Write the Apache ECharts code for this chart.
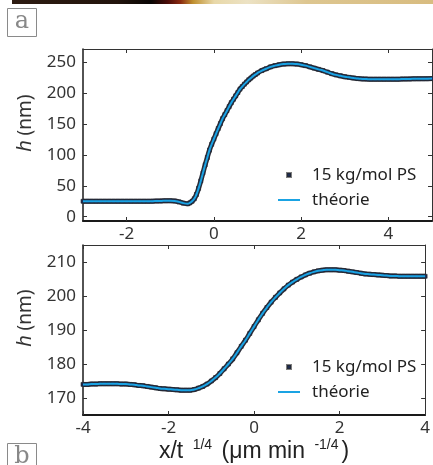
<!DOCTYPE html>
<html>
<head>
<meta charset="utf-8">
<script src="https://cdn.jsdelivr.net/npm/echarts@6/dist/echarts.min.js"></script>
<style>
html,body{margin:0;padding:0;background:#fff;}
#c{width:433px;height:465px;}
</style>
</head>
<body>
<div id="c"></div>
<script>
// ---- Panel a (top) ----
const xTop = [-3.0,-2.9,-2.8,-2.7,-2.6,-2.5,-2.4,-2.3,-2.2,-2.1,-2.0,-1.9,-1.8,-1.7,-1.6,-1.5,-1.4,-1.3,-1.2,-1.1,-1.0,-0.9,-0.8,-0.7,-0.6,-0.55,-0.5,-0.45,-0.4,-0.35,-0.3,-0.25,-0.2,-0.15,-0.1,-0.05,0.0,0.05,0.1,0.15,0.2,0.25,0.3,0.35,0.4,0.45,0.5,0.55,0.6,0.65,0.7,0.75,0.8,0.85,0.9,0.95,1.0,1.1,1.2,1.3,1.4,1.5,1.6,1.7,1.8,1.9,2.0,2.1,2.2,2.3,2.4,2.5,2.6,2.7,2.8,2.9,3.0,3.1,3.2,3.3,3.4,3.5,3.6,3.7,3.8,3.9,4.0,4.1,4.2,4.3,4.4,4.5,4.6,4.7,4.8,4.9,5.0];
const hTop = [25,25,25,25,25,25,25,25,25,25,25,25,25,25,25,25,25.2,25.4,25.6,25.8,25.9,25.5,24,22,21,22.5,25,29,36,46,58,71,84,96,108,117.5,126,134.5,143,151,159,165.5,172,178.5,185,190.5,196,201.5,207,211,215,218.5,222,225,228,230.5,233,237,240,243,245,246.5,247.5,248,248,247.5,246.5,245,243,241,239,237,234.5,232,230,228.5,227,226,225,224,223.5,223.2,223,223,223,223,223,223,223,223.2,223.3,223.5,223.6,223.7,223.8,223.9,224];
const topXTicks = [-2, 0, 2, 4];
const topYTicks = [0, 50, 100, 150, 200, 250];

// ---- Panel b (bottom) ----
const xBot = [-4.0,-3.9,-3.8,-3.7,-3.6,-3.5,-3.4,-3.3,-3.2,-3.1,-3.0,-2.9,-2.8,-2.7,-2.6,-2.5,-2.4,-2.3,-2.2,-2.1,-2.0,-1.9,-1.8,-1.7,-1.6,-1.5,-1.4,-1.3,-1.2,-1.1,-1.0,-0.9,-0.8,-0.7,-0.6,-0.5,-0.4,-0.3,-0.2,-0.1,0.0,0.1,0.2,0.3,0.4,0.5,0.6,0.7,0.8,0.9,1.0,1.1,1.2,1.3,1.4,1.5,1.6,1.7,1.8,1.9,2.0,2.1,2.2,2.3,2.4,2.5,2.6,2.7,2.8,2.9,3.0,3.1,3.2,3.3,3.4,3.5,3.6,3.7,3.8,3.9,4.0];
const hBot = [174.0,174.0,174.1,174.1,174.2,174.2,174.2,174.2,174.2,174.1,174.1,174.0,173.9,173.7,173.6,173.4,173.2,173.0,172.8,172.7,172.6,172.5,172.4,172.3,172.3,172.3,172.5,172.9,173.4,174.1,175.0,176.0,177.2,178.6,180.0,181.5,183.3,185.2,187.0,189.0,191.0,193.0,194.9,196.6,198.2,199.6,200.9,202.1,203.2,204.1,204.9,205.6,206.2,206.7,207.1,207.4,207.6,207.7,207.7,207.7,207.6,207.5,207.3,207.1,206.9,206.7,206.5,206.4,206.3,206.2,206.1,206.0,205.9,205.9,205.8,205.8,205.8,205.8,205.8,205.8,205.8];
const botXTicks = [-4, -2, 0, 2, 4];
const botYTicks = [170, 180, 190, 200, 210];

const seriesNames = ['15 kg/mol PS', 'théorie'];
const xTitle = '{n|x/t }{s|1/4}{n| (μm min }{s|-1/4}{n|)}';
const yTitle = '{i|h}{n| (nm)}';

const FONT = 'Noto Sans';
const dataColor = '#1c2b52';
const lineColor = '#1aa3e3';

const pairs = (xs, ys) => xs.map((x, i) => [x, ys[i]]);

function xAxisPair(gridIndex, min, max, ticks, withName) {
  return [
    {
      type: 'value', gridIndex, min, max, position: 'bottom',
      axisLine: {show: true, onZero: false, lineStyle: {color: '#1a1a1a', width: 2}},
      axisTick: {show: true, inside: true, length: 4, customValues: ticks, lineStyle: {color: '#333', width: 1}},
      axisLabel: {show: true, customValues: ticks, color: '#333', fontFamily: FONT, fontSize: 17, margin: 5},
      splitLine: {show: false},
      name: withName ? xTitle : '',
      nameLocation: 'middle', nameGap: 21,
      nameTextStyle: {
        color: '#222', fontFamily: 'Liberation Sans', fontSize: 23,
        rich: {
          n: {fontSize: 23, fontFamily: 'Liberation Sans', color: '#222', lineHeight: 27},
          s: {fontSize: 14, fontFamily: 'Liberation Sans', color: '#222', verticalAlign: 'top', lineHeight: 18, padding: [0, 3, 0, 3]}
        }
      }
    },
    {
      type: 'value', gridIndex, min, max, position: 'top',
      axisLine: {show: true, onZero: false, lineStyle: {color: '#333', width: 1}},
      axisTick: {show: true, inside: true, length: 4, customValues: ticks, lineStyle: {color: '#333', width: 1}},
      axisLabel: {show: false},
      splitLine: {show: false}
    }
  ];
}

function yAxisPair(gridIndex, min, max, ticks) {
  return [
    {
      type: 'value', gridIndex, min, max, position: 'left',
      axisLine: {show: true, onZero: false, lineStyle: {color: '#1a1a1a', width: 1.5}},
      axisTick: {show: true, inside: true, length: 4, customValues: ticks, lineStyle: {color: '#333', width: 1}},
      axisLabel: {show: true, customValues: ticks, color: '#333', fontFamily: FONT, fontSize: 17, margin: 7},
      splitLine: {show: false},
      name: yTitle, nameLocation: 'middle', nameGap: 47, nameRotate: 90,
      nameTextStyle: {
        color: '#333', fontFamily: FONT, fontSize: 19, padding: [0, 0, 0, 24],
        rich: {
          i: {fontSize: 20, fontStyle: 'italic', fontFamily: 'Liberation Sans', color: '#333'},
          n: {fontSize: 19, fontFamily: FONT, color: '#333'}
        }
      }
    },
    {
      type: 'value', gridIndex, min, max, position: 'right',
      axisLine: {show: true, onZero: false, lineStyle: {color: '#333', width: 1}},
      axisTick: {show: true, inside: true, length: 4, customValues: ticks, lineStyle: {color: '#333', width: 1}},
      axisLabel: {show: false},
      splitLine: {show: false}
    }
  ];
}

function legendFor(top) {
  return {
    orient: 'vertical', left: 278, top: top, padding: 0,
    itemWidth: 22, itemHeight: 4, itemGap: 7,
    selectedMode: false,
    textStyle: {fontFamily: FONT, fontSize: 17, color: '#222', lineHeight: 18, padding: [0, 0, 0, 7]},
    data: [
      {name: seriesNames[0], icon: 'path://M0,0h4v4h-4z', itemStyle: {color: dataColor}},
      {name: seriesNames[1], icon: 'path://M0,0h22v2h-22z', itemStyle: {color: lineColor}}
    ]
  };
}

function dataSeries(ax, xs, ys) {
  return {
    name: seriesNames[0], type: 'line', xAxisIndex: ax, yAxisIndex: ax,
    symbol: 'rect', symbolSize: 4, showSymbol: true, smooth: true,
    itemStyle: {color: dataColor, borderColor: 'rgba(40,40,40,0.6)', borderWidth: 1},
    lineStyle: {color: '#2b2f3c', width: 5},
    data: pairs(xs, ys), z: 2
  };
}
function theorySeries(ax, xs, ys) {
  return {
    name: seriesNames[1], type: 'line', xAxisIndex: ax, yAxisIndex: ax,
    showSymbol: false, symbol: 'none', smooth: true,
    itemStyle: {color: lineColor},
    lineStyle: {color: lineColor, width: 2},
    data: pairs(xs, ys), z: 3
  };
}

const chart = echarts.init(document.getElementById('c'), null, {renderer: 'canvas'});
const topX = xAxisPair(0, -3, 5, topXTicks, false);
const botX = xAxisPair(1, -4, 4, botXTicks, true);
const topY = yAxisPair(0, -7, 272, topYTicks);
const botY = yAxisPair(1, 165, 215, botYTicks);

chart.setOption({
  animation: false,
  backgroundColor: '#fff',
  grid: [
    {left: 83, right: 1, top: 49, height: 172},
    {left: 83, right: 1, top: 245, height: 170}
  ],
  xAxis: [topX[0], botX[0], topX[1], botX[1]],
  yAxis: [topY[0], botY[0], topY[1], botY[1]],
  legend: [legendFor(166), legendFor(358)],
  series: [
    dataSeries(0, xTop, hTop),
    theorySeries(0, xTop, hTop),
    dataSeries(1, xBot, hBot),
    theorySeries(1, xBot, hBot)
  ],
  graphic: [
    {
      type: 'rect', left: 12, top: 0, z: 10,
      shape: {width: 421, height: 4},
      style: {
        fill: new echarts.graphic.LinearGradient(0, 0, 1, 0, [
          {offset: 0, color: '#2e1c12'},
          {offset: 0.25, color: '#22140c'},
          {offset: 0.33, color: '#080504'},
          {offset: 0.37, color: '#4a0c08'},
          {offset: 0.40, color: '#8a2a10'},
          {offset: 0.43, color: '#c09030'},
          {offset: 0.48, color: '#e8d8a8'},
          {offset: 0.56, color: '#ece2c4'},
          {offset: 0.70, color: '#ddc690'},
          {offset: 1, color: '#d8bc80'}
        ])
      }
    },
    {
      type: 'group', left: 7, top: 8, z: 10,
      children: [
        {type: 'rect', shape: {x: 0, y: 0, width: 29, height: 28}, style: {fill: '#fff', stroke: '#8a8a8a', lineWidth: 1}},
        {type: 'text', x: 14.5, y: 13, style: {text: 'a', fill: '#888', font: '24px "DejaVu Serif"', align: 'center', verticalAlign: 'middle'}}
      ]
    },
    {
      type: 'group', left: 7, top: 443, z: 10,
      children: [
        {type: 'rect', shape: {x: 0, y: 0, width: 29, height: 28}, style: {fill: '#fff', stroke: '#8a8a8a', lineWidth: 1}},
        {type: 'text', x: 14.5, y: 13, style: {text: 'b', fill: '#888', font: '24px "DejaVu Serif"', align: 'center', verticalAlign: 'middle'}}
      ]
    }
  ]
});
</script>
</body>
</html>
